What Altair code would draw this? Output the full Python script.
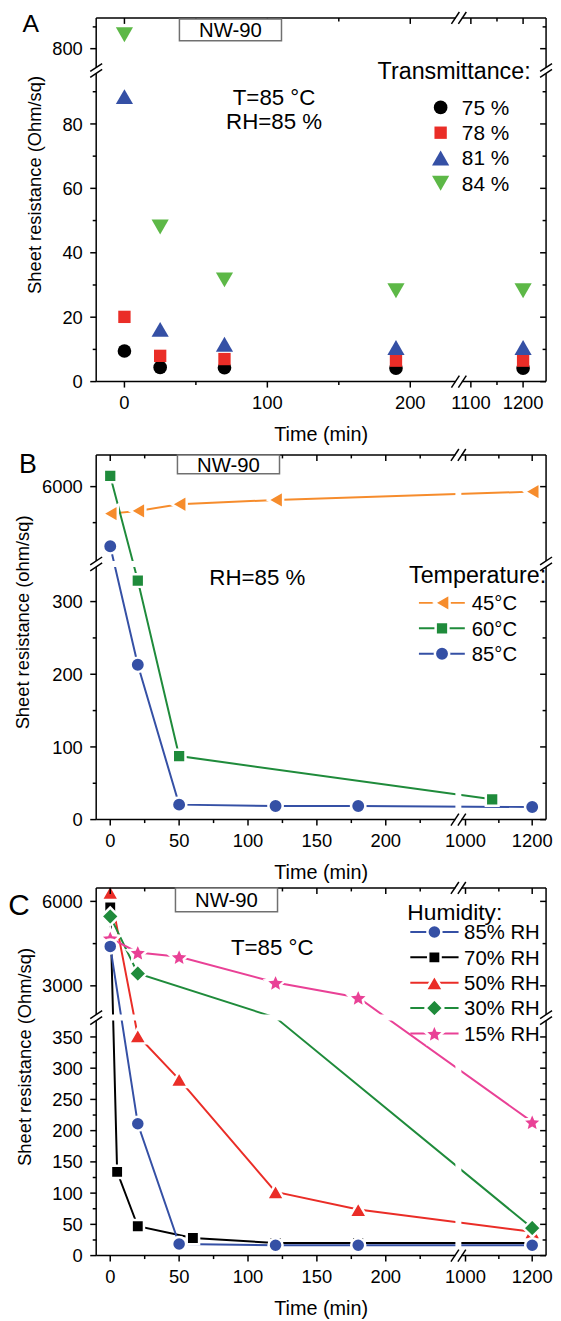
import math
import altair as alt
import pandas as pd

FONT = "Liberation Sans"

# ---------------- Panel A data ----------------
a_time = [0, 25, 70, 190, 1200]
a_t75 = [9.5, 4.4, 4.3, 4.2, 4.2]
a_t78 = [20.1, 8.0, 7.0, 6.5, 6.5]
a_t81 = [88.5, 16.2, 11.6, 10.6, 10.6]
a_t84 = [832, 48.0, 31.6, 28.2, 28.2]
a_names = ["75 %", "78 %", "81 %", "84 %"]
a_y_major = [0, 20, 40, 60, 80, 800]
a_y_minor = [10, 30, 50, 70, 90, 850]
a_x_major = [0, 100, 200, 1100, 1200]
a_x_minor = [50, 150, 1150]

# ---------------- Panel B data ----------------
b_t45 = [0, 20, 50, 120, 1200]
b_r45 = [5250, 5325, 5511, 5630, 5861]
b_t60 = [0, 20, 50, 1080]
b_r60 = [6297, 329, 87.4, 27.9]
b_t85 = [0, 20, 50, 120, 180, 1200]
b_r85 = [4344, 213, 20.6, 18.7, 18.7, 17.3]
b_names = ["45°C", "60°C", "85°C"]
b_y_major = [0, 100, 200, 300, 6000]
b_y_minor = [50, 150, 250, 5000]
bc_x_major = [0, 50, 100, 150, 200, 1000, 1200]
bc_x_minor = [25, 75, 125, 175, 225, 1100]

# ---------------- Panel C data ----------------
c_t85 = [0, 20, 50, 120, 180, 1200]
c_r85 = [4399, 211, 18.6, 16.5, 16.5, 16.5]
c_t70 = [0, 5, 20, 60, 120, 180, 1200]
c_r70 = [5786, 134, 47, 28.2, 20.2, 20.2, 20.0]
c_t50 = [0, 20, 50, 120, 180, 1200]
c_r50 = [6320, 352, 282, 102, 73.8, 38]
c_t30 = [0, 20, 120, 1200]
c_r30 = [5466, 3438, 1000, 44]
c_t15 = [0, 20, 50, 120, 180, 1200]
c_r15 = [4698, 4185, 4032, 3117, 2584, 214]
c_names = ["85% RH", "70% RH", "50% RH", "30% RH", "15% RH"]
c_y_major = [0, 50, 100, 150, 200, 250, 300, 350, 3000, 6000]
c_y_minor = [25, 75, 125, 175, 225, 275, 325, 4500]

BLACK = "#000000"
RED = "#ea2d27"
BLUE = "#3550a5"
LGREEN = "#5db847"
DGREEN = "#1f8b3b"
ORANGE = "#f68c2c"
PINK = "#e94196"

# five-pointed star symbol path in the unit box [-1, 1]
_pts = []
for k in range(10):
    ang = math.radians(-90 + 36 * k)
    rad = 1.0 if k % 2 == 0 else 0.46
    _pts.append(f"{rad * math.cos(ang):.3f},{rad * math.sin(ang) + 0.1:.3f}")
STAR = "M" + "L".join(_pts) + "Z"

W = 454
ONE = pd.DataFrame({"k": [0]})
LAB = 18.5


def txt(s, x, y, size, align="left", color="black"):
    # y is the visual centre of the capital letters
    return alt.Chart(ONE).mark_text(
        text=s, font=FONT, fontSize=size, align=align, baseline="alphabetic", color=color
    ).encode(x=alt.value(x), y=alt.value(y + 0.36 * size))


def hrule(x0, x1, y, color="black", sw=1.5):
    return alt.Chart(ONE).mark_rule(color=color, strokeWidth=sw).encode(
        x=alt.value(x0), x2=alt.value(x1), y=alt.value(y))


def vrule(x, y0, y1, color="black", sw=1.5):
    return alt.Chart(ONE).mark_rule(color=color, strokeWidth=sw).encode(
        x=alt.value(x), y=alt.value(y0), y2=alt.value(y1))


def marker(x, y, shape, color, size, halo):
    return alt.Chart(ONE).mark_point(
        shape=shape, filled=True, size=size, fill=color, opacity=1,
        stroke="white" if halo else color, strokeWidth=2.5 if halo else 0
    ).encode(x=alt.value(x), y=alt.value(y))


def panel(H, xdom, xrng, ydom, yrng, series, lines, halo,
          xmaj, xmin, ymaj, ymin, ytitle, ytitle_x, extras, oy=0):
    xs = alt.Scale(domain=xdom, range=xrng, nice=False, zero=False)
    ys = alt.Scale(domain=ydom, range=[r + oy for r in yrng], nice=False, zero=False)
    X = lambda f: alt.X(f, scale=xs, axis=None)
    Y = lambda f: alt.Y(f, scale=ys, axis=None)
    top, bot = oy, H + oy
    layers = []
    if lines:
        for s in series:
            df = pd.DataFrame({"t": s["t"], "r": s["r"]})
            layers.append(alt.Chart(df).mark_line(color=s["color"], strokeWidth=2).encode(
                x=X("t:Q"), y=Y("r:Q")))
    filt = f"datum.r <= {ydom[1]} || datum.r >= {ydom[2]}"
    for s in series:
        df = pd.DataFrame({"t": s["t"], "r": s["r"]})
        layers.append(alt.Chart(df).transform_filter(filt).mark_point(
            shape=s["shape"], filled=True, size=s["size"], fill=s["color"], opacity=1,
            stroke="white" if halo else s["color"], strokeWidth=2.5 if halo else 0
        ).encode(x=X("t:Q"), y=Y("r:Q")))
    # frame
    layers += [hrule(0, W, top), hrule(0, W, bot), vrule(0, top, bot), vrule(W, top, bot)]
    # break bands
    xb = pd.DataFrame({"b": [xdom[1]]})
    yb = pd.DataFrame({"b": [ydom[1]]})
    layers.append(alt.Chart(xb).mark_rule(color="white", strokeWidth=6).encode(
        x=X("b:Q"), y=alt.value(top - 3), y2=alt.value(bot + 3)))
    layers.append(alt.Chart(yb).mark_rule(color="white", strokeWidth=6).encode(
        y=Y("b:Q"), x=alt.value(-3), x2=alt.value(W + 3)))
    for yy in (top, bot):
        for dx in (-3.5, 3.5):
            layers.append(alt.Chart(xb).mark_rule(
                color="black", strokeWidth=1.5, xOffset=dx - 4, x2Offset=dx + 4,
                yOffset=6, y2Offset=-6).encode(
                x=X("b:Q"), x2="b:Q", y=alt.value(yy), y2=alt.value(yy)))
    for xx in (0, W):
        for dy in (-3, 3):
            layers.append(alt.Chart(yb).mark_rule(
                color="black", strokeWidth=1.5, xOffset=-6, x2Offset=6,
                yOffset=dy + 4, y2Offset=dy - 4).encode(
                y=Y("b:Q"), y2="b:Q", x=alt.value(xx), x2=alt.value(xx)))

    # ticks (bottom/left outward, top/right inward)
    def xt(vals, y0, y1):
        return alt.Chart(pd.DataFrame({"v": vals})).mark_rule(color="black", strokeWidth=1.5).encode(
            x=X("v:Q"), y=alt.value(y0), y2=alt.value(y1))

    def yt(vals, x0, x1):
        return alt.Chart(pd.DataFrame({"v": vals})).mark_rule(color="black", strokeWidth=1.5).encode(
            y=Y("v:Q"), x=alt.value(x0), x2=alt.value(x1))
    layers += [xt(xmaj, bot, bot + 6), xt(xmin, bot, bot + 3.5), xt(xmaj, top, top + 6),
               xt(xmin, top, top + 3.5),
               yt(ymaj, 0, -6), yt(ymin, 0, -3.5), yt(ymaj, W, W - 6), yt(ymin, W, W - 3.5)]
    # tick labels
    ydf = pd.DataFrame({"v": ymaj, "lab": [str(int(v)) for v in ymaj]})
    xdf = pd.DataFrame({"v": xmaj, "lab": [str(int(v)) for v in xmaj]})
    layers.append(alt.Chart(ydf).mark_text(
        font=FONT, fontSize=LAB, align="right", baseline="alphabetic", dy=0.36 * LAB,
        color="black").encode(y=Y("v:Q"), x=alt.value(-13.5), text="lab:N"))
    layers.append(alt.Chart(xdf).mark_text(
        font=FONT, fontSize=LAB, align="center", baseline="alphabetic",
        color="black").encode(x=X("v:Q"), y=alt.value(bot + 21 + 0.36 * LAB), text="lab:N"))
    # axis titles
    layers.append(txt("Time (min)", W / 2, bot + 52.5, 20, "center"))
    layers.append(alt.Chart(ONE).mark_text(
        text=ytitle, angle=270, font=FONT, fontSize=18.5, align="center",
        baseline="middle", color="black").encode(x=alt.value(ytitle_x),
                                                  y=alt.value(top + H / 2 - 15)))
    layers += extras
    return alt.layer(*layers).properties(width=W, height=H + oy)


def nw_box(x0, x1, y0, y1):
    box = alt.Chart(ONE).mark_rect(fill="white", stroke="#707070", strokeWidth=1.5).encode(
        x=alt.value(x0), x2=alt.value(x1), y=alt.value(y0), y2=alt.value(y1))
    return [box, txt("NW-90", (x0 + x1) / 2, (y0 + y1) / 2, 20.5, "center")]


# ---------------- Panel A ----------------
HA = 367
a_series = [
    dict(t=a_time, r=a_t75, color=BLACK, shape="circle", size=190),
    dict(t=a_time, r=a_t78, color=RED, shape="square", size=155),
    dict(t=a_time, r=a_t81, color=BLUE, shape="triangle-up", size=300),
    dict(t=a_time, r=a_t84, color=LGREEN, shape="triangle-down", size=300),
]
a_extra = nw_box(84, 187, 1, 23)
a_extra += [txt("T=85 °C", 179.5, 80, 22.5, "center"), txt("RH=85 %", 179.5, 104, 22.5, "center"),
            txt("Transmittance:", 284, 53, 23.5), txt("A", -66, 5, 25, "center")]
for i, s in enumerate(a_series):
    yy = 90.3 + 25.5 * i
    a_extra += [marker(347.6, yy, s["shape"], s["color"], s["size"], False),
                txt(a_names[i], 369, yy, 21)]
chartA = panel(HA, [-19.76, 234, 1077, 1244], [0, 366, 366, W],
               [0, 96.6, 750, 870.5], [HA, 53, 53, 0], a_series, False, False,
               a_x_major, a_x_minor, a_y_major, a_y_minor,
               "Sheet resistance (Ohm/sq)", -62, a_extra)

# ---------------- Panel B ----------------
HB = 368
OB = 5  # extra room above panel B
b_series = [
    dict(t=b_t45, r=b_r45, color=ORANGE, shape="triangle-left", size=310),
    dict(t=b_t60, r=b_r60, color=DGREEN, shape="square", size=165),
    dict(t=b_t85, r=b_r85, color=BLUE, shape="circle", size=210),
]
b_extra = nw_box(82, 185, OB, 19 + OB)
b_extra += [txt("RH=85 %", 162.6, 123 + OB, 22.5, "center"),
            txt("Temperature:", 315.7, 121 + OB, 23.5), txt("B", -69, 9 + OB, 27, "center")]
for i, s in enumerate(b_series):
    yy = 149.3 + 25.7 * i + OB
    b_extra += [hrule(325.7, 372, yy, s["color"], 2),
                marker(349, yy, s["shape"], s["color"], s["size"], True),
                txt(b_names[i], 379, yy, 20.5)]
bc_xdom = [-10.2, 252.7, 978.6, 1241.6]
bc_xrng = [0, 365.5, 365.5, W]
chartB = panel(HB, bc_xdom, bc_xrng, [0, 351.8, 3853, 6880], [HB, 110, 110, 0],
               b_series, True, True, bc_x_major, bc_x_minor, b_y_major, b_y_minor,
               "Sheet resistance (ohm/sq)", -74, b_extra, oy=OB)

# ---------------- Panel C ----------------
HC = 371
c_style = {
    "85% RH": (BLUE, "circle", 200),
    "70% RH": (BLACK, "square", 155),
    "50% RH": (RED, "triangle-up", 320),
    "30% RH": (DGREEN, "diamond", 320),
    "15% RH": (PINK, STAR, 460),
}
c_data = {"85% RH": (c_t85, c_r85), "70% RH": (c_t70, c_r70), "50% RH": (c_t50, c_r50),
          "30% RH": (c_t30, c_r30), "15% RH": (c_t15, c_r15)}
draw_order = ["70% RH", "50% RH", "30% RH", "15% RH", "85% RH"]
c_series = [dict(t=c_data[n][0], r=c_data[n][1], color=c_style[n][0],
                 shape=c_style[n][1], size=c_style[n][2]) for n in draw_order]
c_extra = nw_box(80, 183, 0, 24)
c_extra += [txt("T=85 °C", 177.6, 59.4, 22.5, "center"),
            txt("Humidity:", 314, 24.4, 23), txt("C", -78, 16, 30, "center")]
for i, n in enumerate(c_names):
    yy = 44.4 + 25.6 * i
    col, shp, sz = c_style[n]
    c_extra += [hrule(317, 365.7, yy, col, 2), marker(341.3, yy, shp, col, sz, True),
                txt(n, 371.3, yy, 20.5)]
chartC = panel(HC, bc_xdom, bc_xrng, [0, 381, 1872, 6477], [HC, 130.8, 130.8, 0],
               c_series, True, True, bc_x_major, bc_x_minor, c_y_major, c_y_minor,
               "Sheet resistance (Ohm/sq)", -72, c_extra)

chart = alt.vconcat(chartA, chartB, chartC, spacing=69, bounds="flush").properties(
    padding={"left": 0, "top": -3, "right": 0, "bottom": 0}
).configure_view(stroke=None)

chart.save("out.html", embed_options={"renderer": "svg", "actions": False})
